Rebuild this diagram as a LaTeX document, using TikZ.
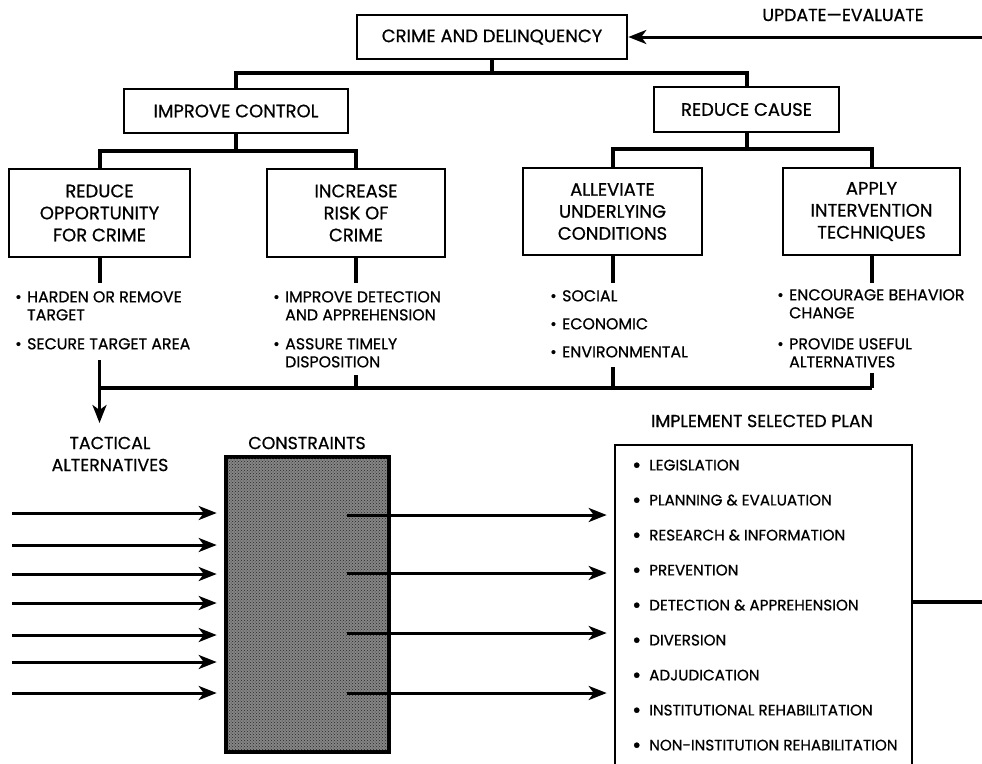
\documentclass[tikz,border=0pt]{standalone}
\usepackage{fontspec}
\setmainfont{Poppins}[FakeBold=0.7]
\usetikzlibrary{arrows.meta,patterns}
\newcommand\hfont{\fontsize{18}{22}\selectfont}
\newcommand\tfont{\fontsize{17.4}{22}\selectfont}
\newcommand\lfont{\fontsize{15.8}{18}\selectfont}
\newcommand\pfont{\fontsize{15.2}{35}\selectfont}
\newcommand\litm[1]{\makebox[12pt][l]{\textbullet}#1}
\newcommand\lcont[1]{\hspace*{12pt}#1}
\newcommand\pitm[1]{\makebox[17pt][l]{\raisebox{-0.14em}{\scalebox{1.45}{\textbullet}}}#1}
\begin{document}
\begin{tikzpicture}[x=1pt,y=-1pt,
  box/.style={draw, line width=2.6pt, align=center, inner sep=0pt, font=\hfont},
  ln/.style={line width=4pt},
  arr/.style={line width=3pt,-{Stealth[length=18pt,width=14pt,inset=5pt]}},
  lbl/.style={inner sep=0pt, align=center, font=\tfont},
  lst/.style={inner sep=0pt, align=left, anchor=north west, font=\lfont},
]
\useasboundingbox (0,0) rectangle (982,763);

% boxes
\node[box, minimum width=270pt, minimum height=44pt] (crime) at (492,37) {CRIME AND DELINQUENCY};
\node[box, minimum width=224pt, minimum height=44pt] (ctrl) at (236,111) {IMPROVE CONTROL};
\node[box, minimum width=185pt, minimum height=45pt] (cause) at (746.5,109.5) {REDUCE CAUSE};
\node[box, minimum width=181pt, minimum height=88pt] (opp) at (99.5,213) {REDUCE\\OPPORTUNITY\\FOR CRIME};
\node[box, minimum width=178pt, minimum height=88pt] (risk) at (356,213) {INCREASE\\RISK OF\\CRIME};
\node[box, minimum width=179pt, minimum height=87pt] (cond) at (612.5,211.5) {ALLEVIATE\\UNDERLYING\\CONDITIONS};
\node[box, minimum width=177pt, minimum height=87pt] (tech) at (871.5,211.5) {APPLY\\INTERVENTION\\TECHNIQUES};

% label
\node[lbl] (upd) at (843,15) {UPDATE—EVALUATE};
\coordinate (updS) at (982,37);
\draw[arr] (updS) -- (crime.east);

% tree connectors
\coordinate (barA) at (0,73);
\coordinate (barB) at (0,151);
\coordinate (barC) at (0,149);
\draw[ln] (crime.south) -- (crime.south |- barA);
\draw[ln] (ctrl.north) -- (ctrl.north |- barA) -| (cause.north);
\draw[ln] (ctrl.south) -- (ctrl.south |- barB);
\draw[ln] (opp.north) -- (opp.north |- barB) -| (risk.north);
\draw[ln] (cause.south) -- (cause.south |- barC);
\draw[ln] (cond.north) -- (cond.north |- barC) -| (tech.north);

% stems below boxes
\draw[ln] (opp.south) -- ++(0,25);
\draw[ln] (risk.south) -- ++(0,25);
\draw[ln] (cond.south) -- ++(0,27);
\draw[ln] (tech.south) -- ++(0,27);

% lists
\node[lst] (l1) at (15,291) {\litm{HARDEN OR REMOVE}\\\lcont{TARGET}\\[11pt]\litm{SECURE TARGET AREA}};
\node[lst] (l2) at (273,291) {\litm{IMPROVE DETECTION}\\\lcont{AND APPREHENSION}\\[11pt]\litm{ASSURE TIMELY}\\\lcont{DISPOSITION}};
\node[lst] (l3) at (550,290) {\litm{SOCIAL}\\[10pt]\litm{ECONOMIC}\\[10pt]\litm{ENVIRONMENTAL}};
\node[lst] (l4) at (777,289) {\litm{ENCOURAGE BEHAVIOR}\\\lcont{CHANGE}\\[13pt]\litm{PROVIDE USEFUL}\\\lcont{ALTERNATIVES}};

% lower collecting bar
\coordinate (barD) at (0,388);
\coordinate (atip) at (0,423);
\draw[ln] (opp.south |- barD) -- (tech.south |- barD);
\draw[ln] (risk.south |- 0,375) -- (risk.south |- barD);
\draw[ln] (cond.south |- 0,367) -- (cond.south |- barD);
\draw[ln] (tech.south |- 0,373) -- (tech.south |- barD);
\draw[arr] (opp.south |- 0,360) -- (opp.south |- atip);

% lower section titles
\node[lbl] (tact) at (110,454) {TACTICAL\\ALTERNATIVES};
\node[lbl] (constr) at (307,443) {CONSTRAINTS};
\node[lbl] (impl) at (762,421) {IMPLEMENT SELECTED PLAN};

% constraints box
\node[draw, line width=2.6pt, minimum width=161pt, minimum height=293pt, inner sep=0pt, fill=black!48] (cons) at (307.5,604.5) {};
\fill[pattern=crosshatch dots, pattern color=black!85] ([shift={(1pt,-1pt)}]cons.south west) rectangle ([shift={(-1pt,1pt)}]cons.north east);
\draw[line width=2.6pt] (cons.south west) rectangle (cons.north east);

% plan box
\node[draw, line width=2.6pt, minimum width=297pt, minimum height=330pt, inner sep=0pt] (plan) at (763.5,610) {};
\node[lst, font=\pfont] (items) at (632,459.5) {\pitm{LEGISLATION}\\\pitm{PLANNING \& EVALUATION}\\\pitm{RESEARCH \& INFORMATION}\\\pitm{PREVENTION}\\\pitm{DETECTION \& APPREHENSION}\\\pitm{DIVERSION}\\\pitm{ADJUDICATION}\\\pitm{INSTITUTIONAL REHABILITATION}\\\pitm{NON-INSTITUTION REHABILITATION}};
\coordinate (outR) at (982,602);
\draw[ln] (plan.east |- outR) -- (outR);

% arrows into constraints
\foreach \yy [count=\i] in {513,545,574,603,635,662,693} {
  \coordinate (in\i) at (12,\yy);
  \draw[arr, shorten >=9pt] (in\i) -- (in\i -| cons.west);
}
% arrows into plan
\foreach \yy [count=\i] in {515,573,633,693} {
  \coordinate (out\i) at (347,\yy);
  \draw[arr, shorten >=7pt] (out\i) -- (out\i -| plan.west);
}
\end{tikzpicture}
\end{document}
